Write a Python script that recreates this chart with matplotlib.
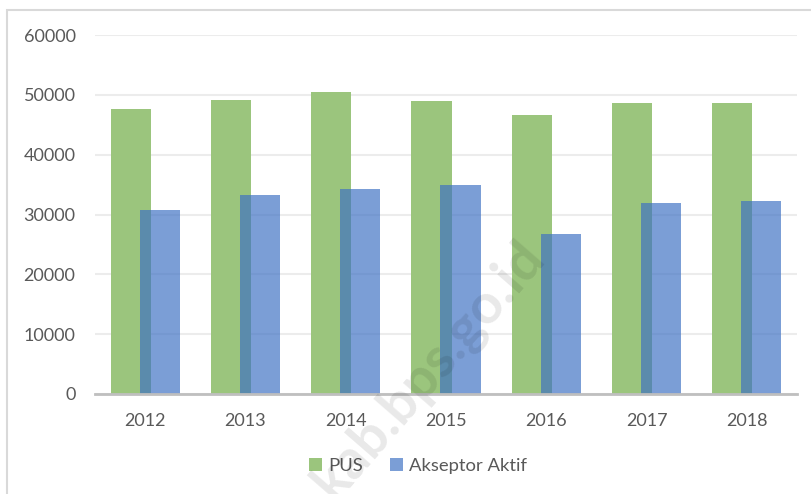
import matplotlib
matplotlib.use("Agg")
import matplotlib.pyplot as plt
from matplotlib.patches import Rectangle
import numpy as np

plt.rcParams['font.family'] = ['Lato', 'DejaVu Sans']

# data
years = ['2012', '2013', '2014', '2015', '2016', '2017', '2018']
pus = [47700, 49200, 50400, 48900, 46600, 48700, 48700]
akseptor = [30750, 33300, 34300, 34900, 26700, 32000, 32300]

txt = '#595959'
x = np.arange(len(years))

fig = plt.figure(figsize=(8.12, 4.94), dpi=100)
ax = fig.add_axes([95 / 812, 1 - 394 / 494, (797 - 95) / 812, (394 - 35) / 494])

# outer chart border (only left/top visible in the crop)
fig.patches.append(Rectangle((7 / 812, -0.1), 1.2, (494 - 10) / 494 + 0.1,
                             transform=fig.transFigure, fill=False,
                             edgecolor='#d9d9d9', linewidth=1.5))

ax.bar(x - 0.145, pus, width=0.4, color='#9BC57D', label='PUS', zorder=2)
ax.bar(x + 0.145, akseptor, width=0.4, color='#3D70C3', alpha=0.68,
       label='Akseptor Aktif', zorder=3)

ax.set_xlim(-0.5, len(years) - 0.5)
ax.set_ylim(0, 60000)
ax.set_yticks(range(0, 60001, 10000))
ax.set_xticks(x)
ax.set_xticklabels(years)
ax.patch.set_alpha(0)

ax.grid(axis='y', color='#ececec', linewidth=1.5, zorder=0)
ax.set_axisbelow(True)
for s in ['top', 'right', 'left']:
    ax.spines[s].set_visible(False)
ax.spines['bottom'].set_color('#bfbfbf')
ax.spines['bottom'].set_linewidth(2)
ax.spines['bottom'].set_zorder(4)

ax.tick_params(axis='y', length=0, pad=14, labelsize=13, labelcolor=txt)
ax.tick_params(axis='x', length=0, pad=14, labelsize=13, labelcolor=txt)

fig.legend(loc='center', bbox_to_anchor=(418 / 812, 1 - 466 / 494), ncol=2,
           frameon=False, fontsize=13.3, labelcolor=txt, handlelength=0.7,
           handleheight=0.7, handletextpad=0.3, columnspacing=1.5)

# watermark, semi transparent on top
fig.text(546 / 812, 1 - 258 / 494, 'kab.bps.go.id', rotation=49,
         rotation_mode='anchor', ha='right', va='baseline',
         fontsize=40, fontweight='bold', color='black', alpha=0.09, zorder=10)

fig.savefig('out.png', dpi=100)
